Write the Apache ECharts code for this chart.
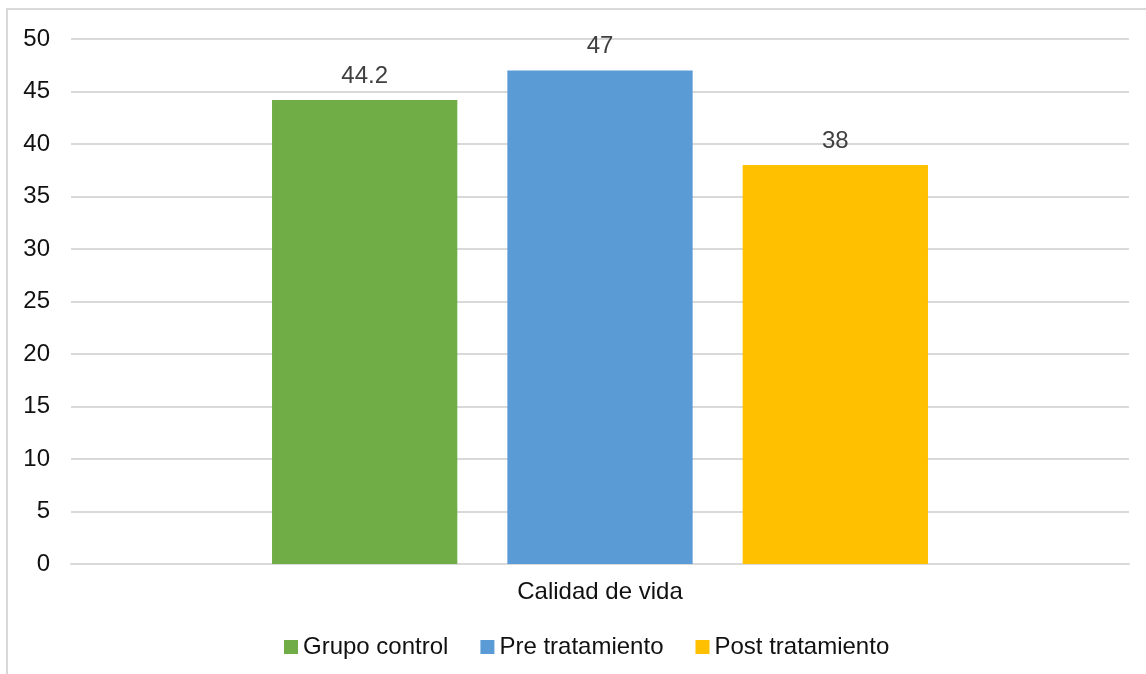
<!DOCTYPE html>
<html>
<head>
<meta charset="utf-8">
<script src="https://cdn.jsdelivr.net/npm/echarts@6/dist/echarts.min.js"></script>
<style>
  html, body { margin: 0; padding: 0; background: #ffffff; }
  #chart { width: 1146px; height: 674px; }
</style>
</head>
<body>
<div id="chart"></div>
<script>
// Categories, series names and values
const categories = ['Calidad de vida'];
const seriesNames = ['Grupo control', 'Pre tratamiento', 'Post tratamiento'];
const grupoControl = [44.2];
const preTratamiento = [47];
const postTratamiento = [38];
const seriesColors = ['#70AD47', '#5B9BD5', '#FFC000'];

const chart = echarts.init(document.getElementById('chart'), null, { renderer: 'canvas' });

const valuesBySeries = [grupoControl, preTratamiento, postTratamiento];
const fontFamily = '"Liberation Sans", Arial, sans-serif';

const series = seriesNames.map((name, i) => ({
  name: name,
  type: 'bar',
  data: valuesBySeries[i],
  barGap: '27%',
  barCategoryGap: '38%',
  itemStyle: { color: seriesColors[i] },
  label: {
    show: true,
    position: 'top',
    distance: 12,
    color: '#404040',
    fontFamily: fontFamily,
    fontSize: 24
  },
  emphasis: { disabled: true }
}));

chart.setOption({
  animation: false,
  backgroundColor: '#ffffff',
  graphic: [{
    type: 'rect',
    shape: { x: 7, y: 9, width: 1300, height: 800 },
    style: { fill: 'none', stroke: '#d9d9d9', lineWidth: 2 },
    silent: true,
    z: -1
  }],
  grid: { left: 71, right: 17, top: 39, bottom: 110, containLabel: false },
  legend: {
    data: seriesNames,
    top: 630,
    left: 279,
    itemWidth: 14,
    itemHeight: 14,
    itemGap: 32,
    icon: 'rect',
    textStyle: { color: '#111111', fontFamily: fontFamily, fontSize: 24 }
  },
  xAxis: {
    type: 'category',
    data: categories,
    axisLine: { show: true, lineStyle: { color: '#d9d9d9', width: 2 } },
    axisTick: { show: false },
    axisLabel: { color: '#111111', fontFamily: fontFamily, fontSize: 24, margin: 16 }
  },
  yAxis: {
    type: 'value',
    min: 0,
    max: 50,
    interval: 5,
    axisLine: { show: false },
    axisTick: { show: false },
    splitLine: { lineStyle: { color: '#d9d9d9', width: 2 } },
    axisLabel: { color: '#111111', fontFamily: fontFamily, fontSize: 24, margin: 21 }
  },
  series: series
});
</script>
</body>
</html>
